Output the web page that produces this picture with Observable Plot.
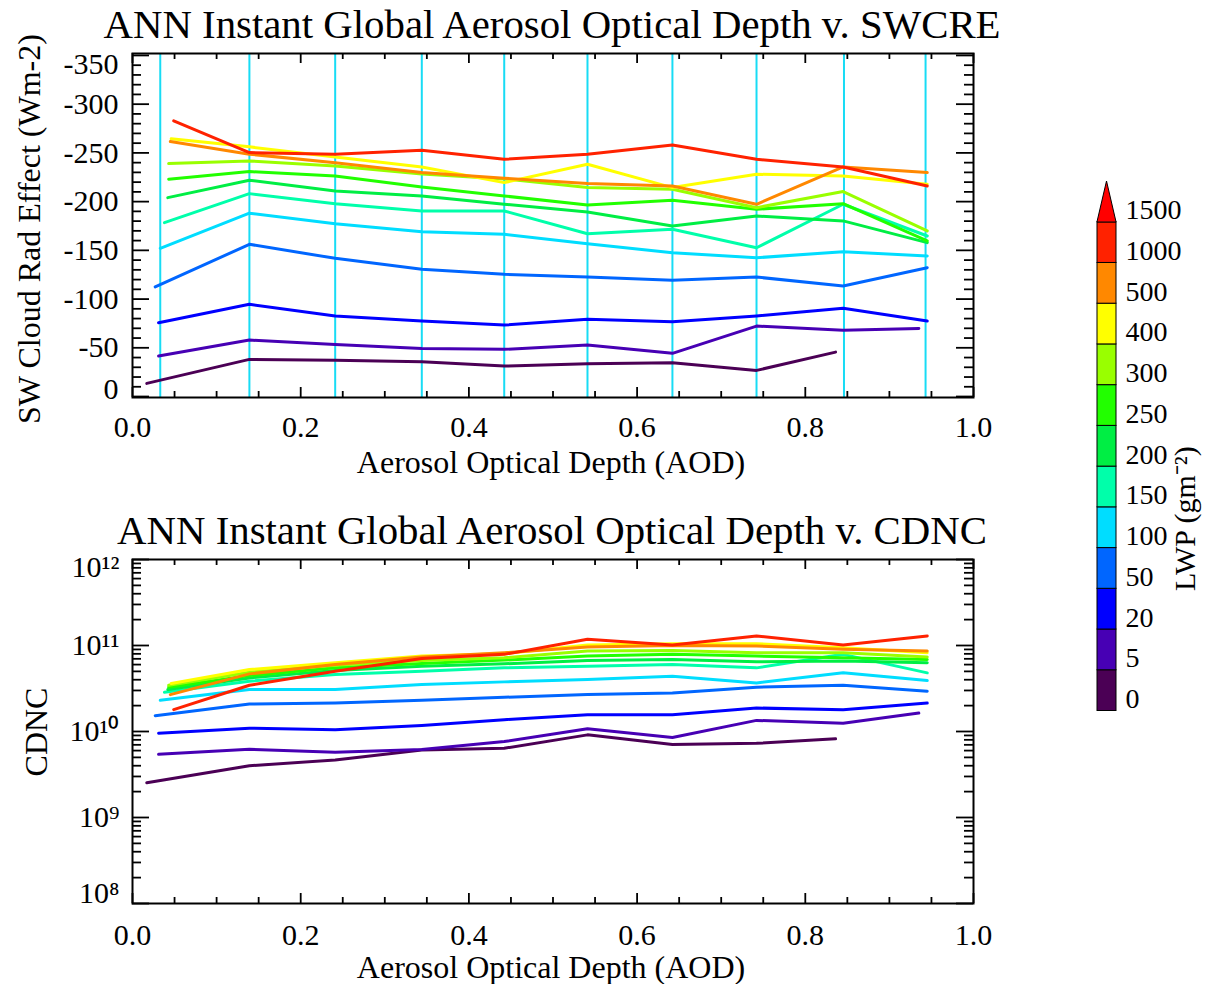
<!DOCTYPE html>
<html>
<head>
<meta charset="utf-8">
<script src="https://cdn.jsdelivr.net/npm/d3@7"></script>
<script src="https://cdn.jsdelivr.net/npm/@observablehq/plot@0.6"></script>
<style>
html, body { margin: 0; padding: 0; background: #fff; }
body { width: 1206px; height: 984px; position: relative; overflow: hidden;
       font-family: 'Liberation Serif', 'Times New Roman', serif; color: #000; }
.abs { position: absolute; white-space: nowrap; line-height: 1; }
.title { font-size: 40.8px; transform: translateX(-50%); }
.axt { font-size: 32px; transform: translateX(-50%); }
.rot { font-size: 32px; transform: translate(-50%, -50%) rotate(-90deg); }
</style>
</head>
<body>
<div id="topChart" class="abs" style="left:0; top:0;"></div>
<div id="bottomChart" class="abs" style="left:0; top:480px;"></div>
<div id="colorbar" class="abs" style="left:1080px; top:160px;"></div>

<div class="abs title" style="left:552px; top:5px;">ANN Instant Global Aerosol Optical Depth v. SWCRE</div>
<div class="abs axt" style="left:551px; top:446px;">Aerosol Optical Depth (AOD)</div>
<div class="abs rot" style="left:29px; top:229px;">SW Cloud Rad Effect (Wm-2)</div>

<div class="abs title" style="left:552px; top:511px;">ANN Instant Global Aerosol Optical Depth v. CDNC</div>
<div class="abs axt" style="left:551px; top:951px;">Aerosol Optical Depth (AOD)</div>
<div class="abs rot" style="left:36px; top:732px;">CDNC</div>

<script>
// ---------------- DATA ----------------
// LWP bin boundaries (g m^-2) shown on the colour bar
const lwpLabels = ["0", "5", "20", "50", "100", "150", "200", "250", "300", "400", "500", "1000", "1500"];
// one colour per LWP bin (0-5 ... 1000-1500), plus the >1500 arrow
const binColors = ["#4b0055", "#4700b4", "#0000ff", "#0066ff", "#00ddff", "#00ffaa",
                   "#00ee44", "#22ff00", "#99ff00", "#ffff00", "#ff8800", "#ff2200"];
const arrowColor = "#ff0000";

// AOD of the first point of each LWP bin's curve
const aodFirst = [0.017, 0.031, 0.031, 0.027, 0.033, 0.038, 0.042, 0.043, 0.043, 0.046, 0.045, 0.049];
// AOD of the following points (shared bins)
const aodBins = [0.139, 0.241, 0.344, 0.442, 0.541, 0.642, 0.742, 0.845, 0.945];
// AOD of the last point of each curve
const aodLast = [0.836, 0.935, 0.945, 0.945, 0.945, 0.945, 0.945, 0.945, 0.945, 0.945, 0.945, 0.945];
// cyan vertical reference lines (AOD bin means)
const binMeanAod = [0.033, 0.139, 0.241, 0.344, 0.442, 0.541, 0.642, 0.742, 0.846, 0.943];

// SW cloud radiative effect (W m-2) per LWP bin
const swcre0   = [-13.5, -38.1, -37.1, -35.6, -31.2, -33.6, -34.6, -26.8, -45.6];
const swcre5   = [-41.5, -57.9, -53.5, -49.4, -48.4, -52.8, -44.3, -72.3, -67.9, -69.9];
const swcre20  = [-75.7, -94.6, -82.6, -77.4, -73.3, -79.2, -76.7, -82.6, -90.5, -77.4];
const swcre50  = [-112.4, -156.2, -141.8, -130.5, -125.4, -122.6, -119.2, -122.6, -113.4, -132.2];
const swcre100 = [-152.1, -188.1, -177.4, -169.2, -166.5, -156.8, -147.6, -142.4, -148.6, -144.2];
const swcre150 = [-178.4, -208.2, -197.9, -190.4, -190.4, -167.1, -171.6, -152.7, -197.3, -164.7];
const swcre200 = [-204.1, -222.0, -211.0, -205.8, -197.3, -189.3, -175.0, -185.3, -180.2, -157.9];
const swcre250 = [-223.0, -230.8, -226.4, -215.1, -205.8, -196.6, -201.4, -192.2, -197.9, -159.6];
const swcre300 = [-239.0, -241.8, -236.6, -228.4, -223.3, -214.4, -212.7, -193.8, -210.3, -169.9];
const swcre400 = [-264.4, -256.2, -245.9, -235.6, -219.5, -238.4, -214.4, -228.1, -226.4, -217.9];
const swcre500 = [-261.6, -248.7, -240.0, -229.8, -224.0, -218.5, -216.1, -197.3, -235.6, -229.8];
const swcre1000 = [-282.9, -250.3, -248.7, -252.8, -243.5, -248.7, -258.2, -243.5, -235.6, -216.1];

// CDNC per LWP bin, in units of 1e10
const cdnc0   = [0.254, 0.400, 0.467, 0.611, 0.638, 0.914, 0.708, 0.729, 0.822];
const cdnc5   = [0.543, 0.621, 0.573, 0.617, 0.764, 1.076, 0.851, 1.346, 1.250, 1.637];
const cdnc20  = [0.955, 1.094, 1.047, 1.175, 1.371, 1.567, 1.567, 1.875, 1.795, 2.143];
const cdnc50  = [1.528, 2.089, 2.143, 2.307, 2.500, 2.692, 2.805, 3.273, 3.451, 2.938];
const cdnc100 = [2.307, 3.076, 3.076, 3.516, 3.776, 4.027, 4.395, 3.673, 4.808, 3.917];
const cdnc150 = [2.858, 3.846, 4.603, 5.012, 5.495, 5.754, 6.026, 5.495, 7.889, 4.808];
const cdnc200 = [3.076, 4.198, 5.129, 5.754, 6.124, 6.714, 6.887, 6.457, 6.607, 6.295];
const cdnc250 = [3.273, 4.467, 5.495, 6.166, 6.761, 7.534, 7.889, 7.534, 7.194, 6.887];
const cdnc300 = [3.459, 4.898, 5.888, 6.714, 7.194, 8.630, 8.770, 8.241, 8.241, 7.345];
const cdnc400 = [3.614, 5.248, 6.310, 7.534, 8.035, 10.14, 10.47, 10.47, 9.419, 8.241];
const cdnc500 = [2.685, 4.677, 6.026, 7.345, 8.241, 9.594, 10.00, 9.863, 9.016, 8.630];
const cdnc1000 = [1.795, 3.451, 5.012, 7.079, 7.889, 11.80, 10.14, 12.91, 10.14, 12.91];

// axis tick labels
const xTicks = [0, 0.2, 0.4, 0.6, 0.8, 1.0];
const swTicks = [-350, -300, -250, -200, -150, -100, -50, 0];
const cdncTicks = [1e8, 1e9, 1e10, 1e11, 1e12];

// ---------------- BUILD ROWS ----------------
const swSeries = [swcre0, swcre5, swcre20, swcre50, swcre100, swcre150, swcre200, swcre250, swcre300, swcre400, swcre500, swcre1000];
const cdSeries = [cdnc0, cdnc5, cdnc20, cdnc50, cdnc100, cdnc150, cdnc200, cdnc250, cdnc300, cdnc400, cdnc500, cdnc1000];
function aodFor(i, n) { return [aodFirst[i], ...aodBins.slice(0, n - 2), aodLast[i]]; }
const swRows = [], cdRows = [];
swSeries.forEach((vals, i) => { const xs = aodFor(i, vals.length); vals.forEach((v, j) => swRows.push({bin: i, aod: xs[j], value: v})); });
cdSeries.forEach((vals, i) => { const xs = aodFor(i, vals.length); vals.forEach((v, j) => cdRows.push({bin: i, aod: xs[j], value: v * 1e10})); });
const binIndex = d3.range(binColors.length);

// ---------------- HELPERS ----------------
const FONT = "'Liberation Serif', 'Times New Roman', serif";
const W = 1000, mL = 132, mR = 27;
const plotW = W - mL - mR;
const xMinor = d3.range(0.05, 1.0, 0.05).map(d => +d.toFixed(2)).filter(d => !xTicks.some(t => Math.abs(t - d) < 1e-6));

function frameTicks(yMajor, yMinor, plotH) {
  const s = {stroke: "black", strokeWidth: 1.8};
  return [
    Plot.tickY(yMajor, {y: d => d, insetRight: plotW - 17, ...s}),
    Plot.tickY(yMinor, {y: d => d, insetRight: plotW - 9, ...s}),
    Plot.tickY(yMajor, {y: d => d, insetLeft: plotW - 17, ...s}),
    Plot.tickY(yMinor, {y: d => d, insetLeft: plotW - 9, ...s}),
    Plot.tickX(xTicks, {x: d => d, insetTop: plotH - 10, ...s}),
    Plot.tickX(xMinor, {x: d => d, insetTop: plotH - 6, ...s}),
    Plot.tickX(xTicks, {x: d => d, insetBottom: plotH - 10, ...s}),
    Plot.tickX(xMinor, {x: d => d, insetBottom: plotH - 6, ...s})
  ];
}

// ---------------- TOP CHART ----------------
{
  const H = 480, mT = 53, mB = 83, plotH = H - mT - mB;
  const swMinor = d3.range(-350, 1, 10).filter(d => d % 50 !== 0);
  const chart = Plot.plot({
    width: W, height: H, marginLeft: mL, marginRight: mR, marginTop: mT, marginBottom: mB,
    style: `font-family: ${FONT}; font-size: 30px; color: black; background: transparent; overflow: visible;`,
    x: {domain: [0, 1]},
    y: {domain: [1, -352]},
    color: {type: "ordinal", domain: binIndex, range: binColors},
    marks: [
      Plot.ruleX(binMeanAod, {x: d => d, stroke: "#18dcf5", strokeWidth: 2}),
      Plot.line(swRows, {x: "aod", y: "value", z: "bin", stroke: "bin", strokeWidth: 3, strokeLinejoin: "round"}),
      ...frameTicks(swTicks, swMinor, plotH),
      Plot.frame({stroke: "black", strokeWidth: 2}),
      Plot.axisX({ticks: xTicks, tickSize: 0, tickPadding: 18, tickFormat: d3.format(".1f"), label: null, fontSize: 30}),
      Plot.axisY({ticks: swTicks.slice(1, -1), tickSize: 0, tickPadding: 14, tickFormat: d => String(d), label: null, fontSize: 30}),
      Plot.axisY({ticks: [swTicks[0]], tickSize: 0, tickPadding: 14, tickFormat: d => String(d), label: null, fontSize: 30, dy: 9}),
      Plot.axisY({ticks: [swTicks[swTicks.length - 1]], tickSize: 0, tickPadding: 14, tickFormat: d => String(d), label: null, fontSize: 30, dy: -7})
    ]
  });
  document.getElementById("topChart").appendChild(chart);
}

// ---------------- BOTTOM CHART ----------------
{
  const H = 504, mT = 79, mB = 81, plotH = H - mT - mB;
  const cdMinor = [];
  for (let e = 8; e < 12; e++) for (let m = 2; m <= 9; m++) cdMinor.push(m * Math.pow(10, e));
  const sup = {"0": "⁰", "1": "¹", "2": "²", "3": "³", "4": "⁴", "5": "⁵", "6": "⁶", "7": "⁷", "8": "⁸", "9": "⁹"};
  const fmt = d => "10" + String(Math.round(Math.log10(d))).split("").map(c => sup[c]).join("");
  const chart = Plot.plot({
    width: W, height: H, marginLeft: mL, marginRight: mR, marginTop: mT, marginBottom: mB,
    style: `font-family: ${FONT}; font-size: 30px; color: black; background: transparent; overflow: visible;`,
    x: {domain: [0, 1]},
    y: {type: "log", domain: [1e8, 1e12]},
    color: {type: "ordinal", domain: binIndex, range: binColors},
    marks: [
      Plot.line(cdRows, {x: "aod", y: "value", z: "bin", stroke: "bin", strokeWidth: 3, strokeLinejoin: "round"}),
      ...frameTicks(cdncTicks, cdMinor, plotH),
      Plot.frame({stroke: "black", strokeWidth: 2}),
      Plot.axisX({ticks: xTicks, tickSize: 0, tickPadding: 20, tickFormat: d3.format(".1f"), label: null, fontSize: 30}),
      Plot.axisY({ticks: cdncTicks.slice(1, -1), tickSize: 0, tickPadding: 13, tickFormat: fmt, label: null, fontSize: 30}),
      Plot.axisY({ticks: [cdncTicks[cdncTicks.length - 1]], tickSize: 0, tickPadding: 13, tickFormat: fmt, label: null, fontSize: 30, dy: 8}),
      Plot.axisY({ticks: [cdncTicks[0]], tickSize: 0, tickPadding: 13, tickFormat: fmt, label: null, fontSize: 30, dy: -10})
    ]
  });
  document.getElementById("bottomChart").appendChild(chart);
}

// ---------------- COLOUR BAR ----------------
{
  const n = binColors.length;
  const arrow = [{y: n, x1: 0, x2: 1}, {y: n + 1, x1: 0.5, x2: 0.5}];
  const chart = Plot.plot({
    width: 126, height: 570, marginLeft: 17, marginRight: 90, marginTop: 21, marginBottom: 19.5,
    style: `font-family: ${FONT}; font-size: 28px; color: black; background: transparent; overflow: visible;`,
    x: {domain: [0, 1], axis: null},
    y: {domain: [0, n + 1], axis: null},
    color: {type: "identity"},
    marks: [
      Plot.rect(binIndex, {x1: 0, x2: 1, y1: d => d, y2: d => d + 1, fill: d => binColors[d], stroke: "black", strokeWidth: 1}),
      Plot.areaX(arrow, {y: "y", x1: "x1", x2: "x2", fill: arrowColor, stroke: "black", strokeWidth: 1}),
      Plot.text(lwpLabels, {x: 1, y: (d, i) => i, text: d => d, textAnchor: "start", lineAnchor: "bottom", dx: 9, dy: -3, fontSize: 28}),
      Plot.text(["LWP (gm⁻²)"], {frameAnchor: "right", rotate: -90, dx: 69, fontSize: 30})
    ]
  });
  document.getElementById("colorbar").appendChild(chart);
}
</script>
</body>
</html>
